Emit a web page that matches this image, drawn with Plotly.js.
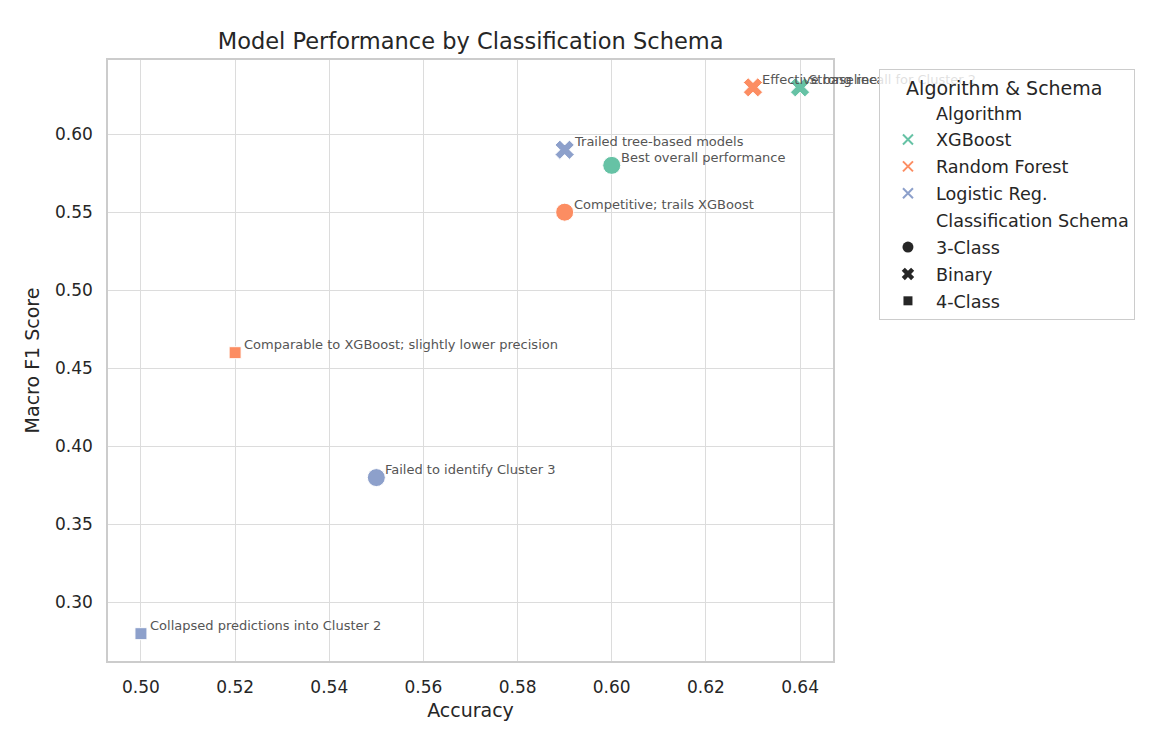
<!DOCTYPE html>
<html>
<head>
<meta charset="utf-8">
<script src="https://cdn.plot.ly/plotly-3.0.1.min.js"></script>
<style>
  html, body { margin: 0; padding: 0; background: #ffffff; }
  #chart { width: 1160px; height: 754px; }
</style>
</head>
<body>
<div id="chart"></div>
<script>
// Model results: one entry per algorithm / classification schema run
const algorithms = ["XGBoost", "XGBoost", "Random Forest", "Random Forest", "Random Forest", "Logistic Reg.", "Logistic Reg.", "Logistic Reg."];
const schemas    = ["3-Class", "Binary", "3-Class", "Binary", "4-Class", "3-Class", "Binary", "4-Class"];
const accuracy   = [0.60, 0.64, 0.59, 0.63, 0.52, 0.55, 0.59, 0.50];
const macroF1    = [0.58, 0.63, 0.55, 0.63, 0.46, 0.38, 0.59, 0.28];
const notes      = [
  "Best overall performance",
  "Strong recall for Cluster 2",
  "Competitive; trails XGBoost",
  "Effective baseline",
  "Comparable to XGBoost; slightly lower precision",
  "Failed to identify Cluster 3",
  "Trailed tree-based models",
  "Collapsed predictions into Cluster 2"
];

const algorithmOrder = ["XGBoost", "Random Forest", "Logistic Reg."];
const schemaOrder    = ["3-Class", "Binary", "4-Class"];

const palette   = { "XGBoost": "#66c2a5", "Random Forest": "#fc8d62", "Logistic Reg.": "#8da0cb" };
const symbolFor = { "3-Class": "circle", "Binary": "x", "4-Class": "square" };
const sizeFor   = { "3-Class": 18, "Binary": 17, "4-Class": 12 };

const FONT = "DejaVu Sans, sans-serif";
const TEXT = "#262626";

const traces = [];

// Data points, one trace per algorithm
algorithmOrder.forEach(alg => {
  const idx = algorithms.map((a, i) => a === alg ? i : -1).filter(i => i >= 0);
  traces.push({
    type: "scatter",
    mode: "markers",
    x: idx.map(i => accuracy[i]),
    y: idx.map(i => macroF1[i]),
    text: idx.map(i => schemas[i]),
    name: alg,
    showlegend: false,
    cliponaxis: false,
    marker: {
      color: palette[alg],
      opacity: 1,
      symbol: idx.map(i => symbolFor[schemas[i]]),
      size: idx.map(i => sizeFor[schemas[i]]),
      line: { color: "#ffffff", width: 1 }
    },
    hovertemplate: alg + " (%{text})<br>Accuracy %{x:.2f}<br>Macro F1 %{y:.2f}<extra></extra>"
  });
});

// Legend entries: section headings plus hue and marker keys
function legendEntry(name, marker, group) {
  return {
    type: "scatter", mode: "markers", x: [null], y: [null],
    name: name, legendgroup: group, showlegend: true, hoverinfo: "skip",
    marker: marker
  };
}
traces.push(legendEntry("Algorithm", { size: 1, color: "rgba(0,0,0,0)" }, "h1"));
algorithmOrder.forEach((alg, k) => {
  traces.push(legendEntry(alg, { symbol: "x-thin-open", size: 10, color: palette[alg], line: { color: palette[alg], width: 2 } }, "a" + k));
});
traces.push(legendEntry("Classification Schema", { size: 1, color: "rgba(0,0,0,0)" }, "h2"));
schemaOrder.forEach((s, k) => {
  traces.push(legendEntry(s, { symbol: symbolFor[s], size: s === "4-Class" ? 9 : 11, color: "#262626", line: { width: 0 } }, "s" + k));
});

const annotations = notes.map((t, i) => ({
  x: accuracy[i], y: macroF1[i], xref: "x", yref: "y",
  text: t, showarrow: false,
  xanchor: "left", yanchor: "middle",
  xshift: 7, yshift: 8,
  font: { family: FONT, size: 13, color: "#555555" }
}));

const layout = {
  width: 1160, height: 754,
  paper_bgcolor: "#ffffff", plot_bgcolor: "#ffffff",
  margin: { l: 108, r: 327, t: 60, b: 93, pad: 0 },
  font: { family: FONT, color: TEXT, size: 17 },
  title: {
    text: "Model Performance by Classification Schema",
    font: { family: FONT, size: 22.5, color: TEXT },
    x: 0.4057, xanchor: "center", y: 0.945, yanchor: "middle"
  },
  xaxis: {
    range: [0.493, 0.647],
    tickvals: [0.50, 0.52, 0.54, 0.56, 0.58, 0.60, 0.62, 0.64],
    tickformat: ".2f",
    showgrid: true, gridcolor: "#dcdcdc", gridwidth: 1,
    zeroline: false,
    showline: true, linecolor: "#cccccc", linewidth: 1.5, mirror: true,
    ticks: "", ticklabelstandoff: 10,
    tickfont: { family: FONT, size: 17, color: TEXT },
    title: { text: "Accuracy", font: { family: FONT, size: 19, color: TEXT }, standoff: 8 }
  },
  yaxis: {
    range: [0.2625, 0.6475],
    tickvals: [0.30, 0.35, 0.40, 0.45, 0.50, 0.55, 0.60],
    tickformat: ".2f",
    showgrid: true, gridcolor: "#dcdcdc", gridwidth: 1,
    zeroline: false,
    showline: true, linecolor: "#cccccc", linewidth: 1.5, mirror: true,
    ticks: "", ticklabelstandoff: 10,
    tickfont: { family: FONT, size: 17, color: TEXT },
    title: { text: "Macro F1 Score", font: { family: FONT, size: 19, color: TEXT }, standoff: 10 }
  },
  legend: {
    x: 1.0634, xanchor: "left", y: 0.985, yanchor: "top",
    bgcolor: "rgba(255,255,255,0.82)", bordercolor: "#cccccc", borderwidth: 1,
    font: { family: FONT, size: 17.6, color: TEXT },
    title: { text: "\u00a0\u00a0\u00a0\u00a0Algorithm & Schema", font: { family: FONT, size: 19, color: TEXT } },
    tracegroupgap: 1,
    itemwidth: 46
  },
  annotations: annotations,
  showlegend: true
};

const gd = document.getElementById("chart");
Plotly.newPlot(gd, traces, layout, { displayModeBar: false }).then(() => {
  // keep the legend box above the note texts that run into it
  const leg = gd.querySelector("g.legend");
  if (leg && leg.parentNode) leg.parentNode.appendChild(leg);
});
</script>
</body>
</html>
